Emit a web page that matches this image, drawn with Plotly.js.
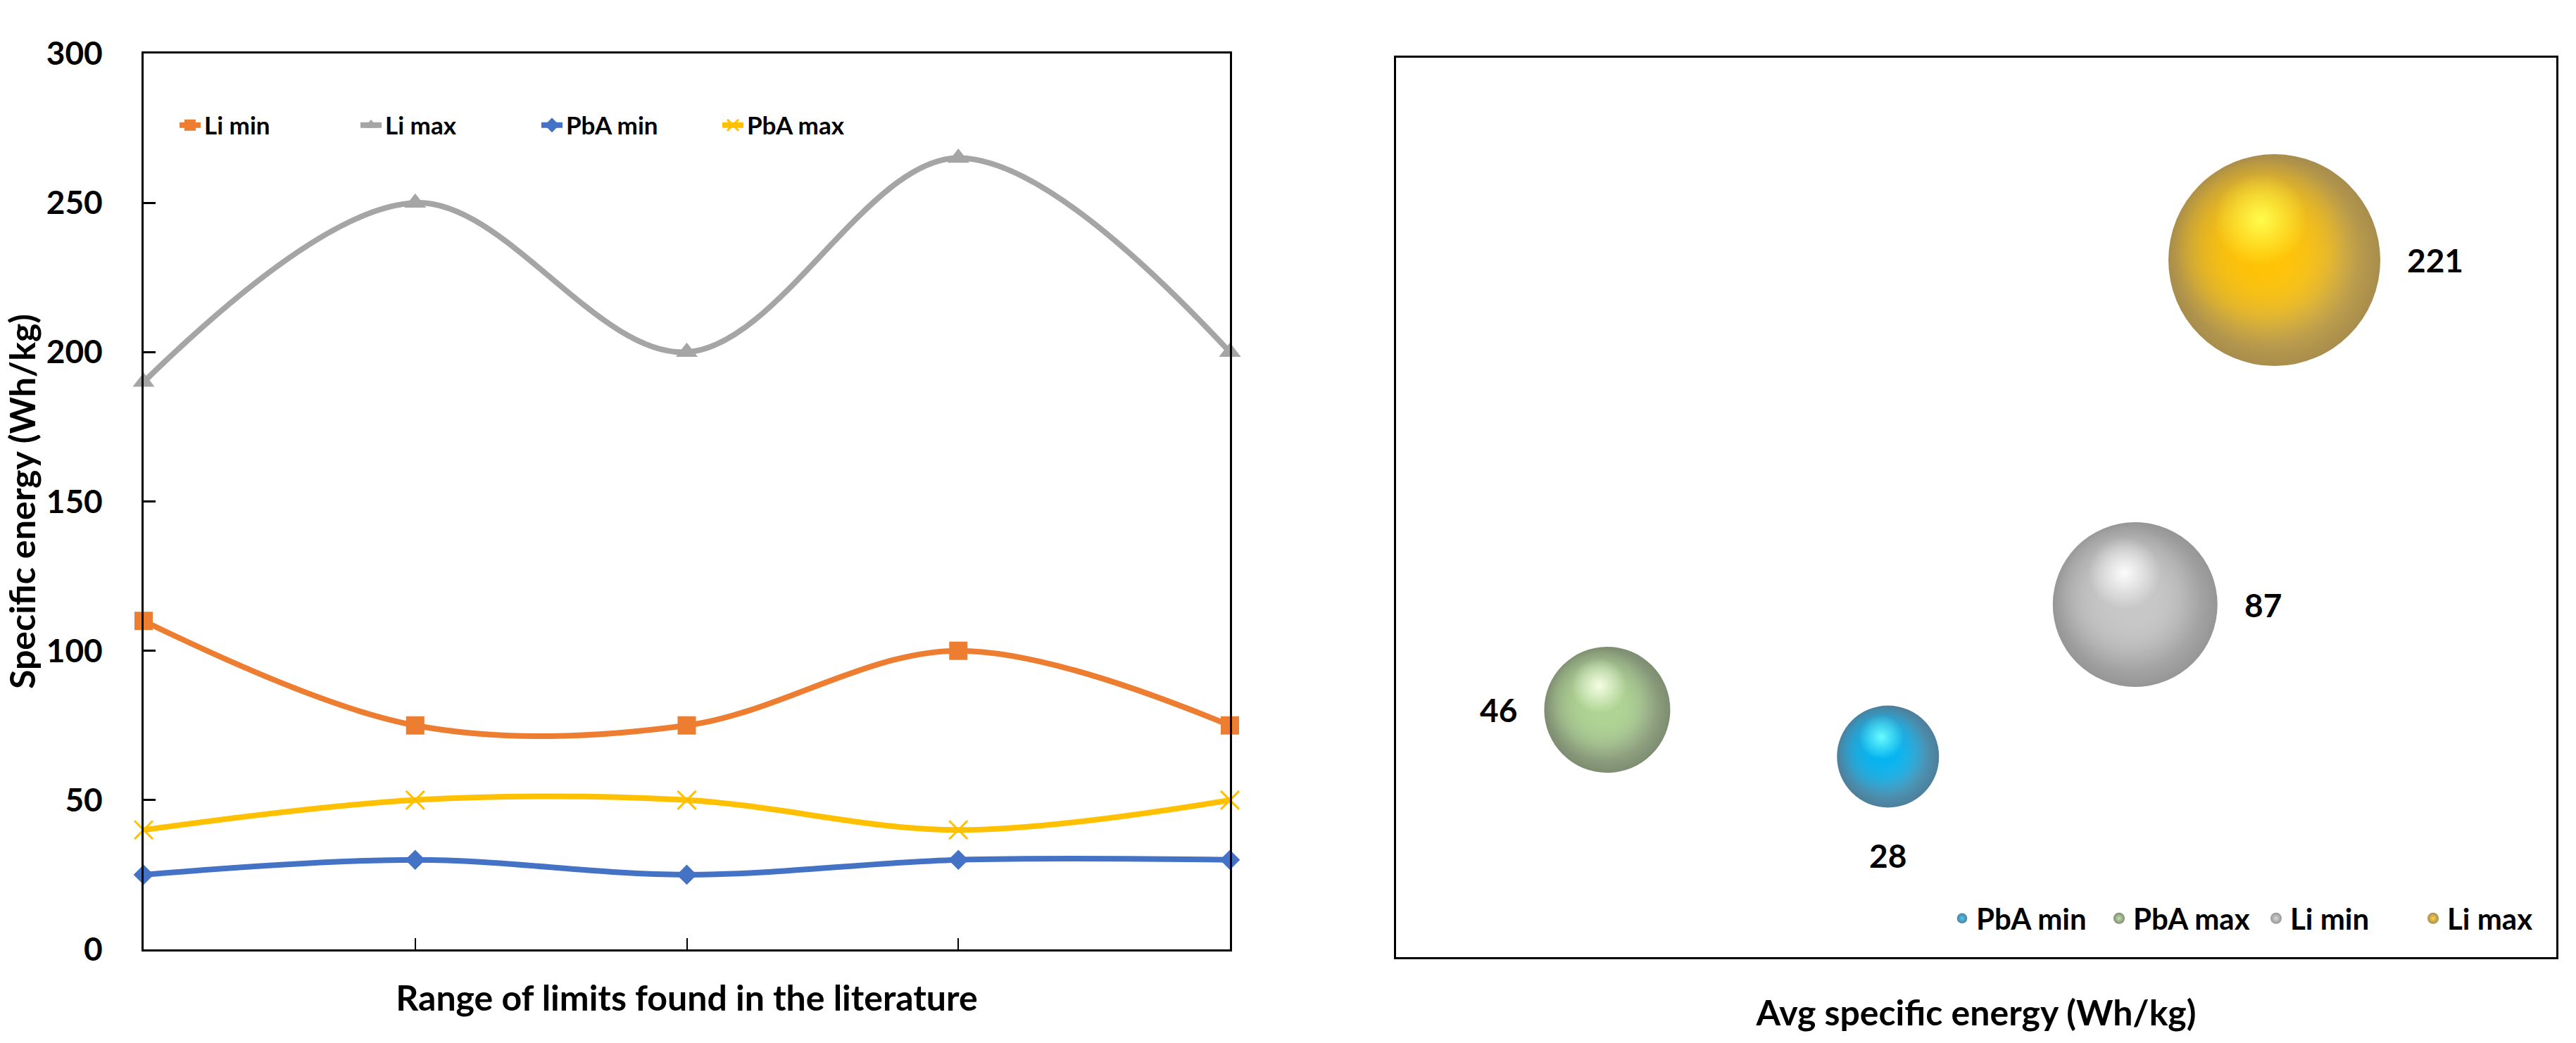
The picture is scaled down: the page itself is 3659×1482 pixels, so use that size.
<!DOCTYPE html>
<html><head><meta charset="utf-8">
<script src="https://cdn.plot.ly/plotly-3.0.1.min.js"></script>
<style>html,body{margin:0;padding:0;background:#fff}#chart{width:3659px;height:1482px}</style>
</head><body><div id="chart"></div>
<script>
// ---------- data ----------
const pointIndex = [0, 1, 2, 3, 4];
const liMin  = [110, 75, 75, 100, 75];
const liMax  = [190, 250, 200, 265, 200];
const pbaMin = [25, 30, 25, 30, 30];
const pbaMax = [40, 50, 50, 40, 50];
const yTickVals = [0, 50, 100, 150, 200, 250, 300];

const bubbleNames = ['PbA min', 'PbA max', 'Li min', 'Li max'];
const bubbleSeries = [pbaMin, pbaMax, liMin, liMax];   // label = average of series
const bubbleX = [4.24, 1.82, 6.37, 7.57];
const bubbleY = [2.23, 2.75, 3.92, 7.75];
const bubbleSize = [14.5, 17.9, 23.4, 30.1];

// ---------- layout geometry ----------
const W = 3659, H = 1482;
const L = {x0: 204, x1: 1747, top: 76, bottom: 1349};
const R = {x0: 1983, x1: 3631, top: 82, bottom: 1360};
const bxRange = [0, 10], byRange = [0, 10];
const FONT = 'Lato, "Open Sans", sans-serif';
const sizeRef = 0.1;

const avg = a => Math.round(a.reduce((s, v) => s + v, 0) / a.length);

const lineStyles = [
  {name: 'Li min',  y: liMin,  color: '#ED7D31', symbol: 'square',      size: 26},
  {name: 'Li max',  y: liMax,  color: '#A5A5A5', symbol: 'triangle-up', size: 27},
  {name: 'PbA min', y: pbaMin, color: '#4472C4', symbol: 'diamond',     size: 22},
  {name: 'PbA max', y: pbaMax, color: '#FFC000', symbol: 'x-thin-open', size: 26}
];

const bubbleStyles = [
  {base: [0, 178, 240],   edge: [0, 72, 112],   hl: [110, 255, 255]},
  {base: [172, 212, 144], edge: [70, 92, 52],   hl: [248, 255, 232]},
  {base: [198, 198, 198], edge: [105, 105, 105], hl: [255, 255, 255]},
  {base: [255, 194, 0],   edge: [130, 92, 0],   hl: [255, 255, 80]}
];
const rgba = (c, a) => `rgba(${c[0]},${c[1]},${c[2]},${a})`;

const traces = [];
lineStyles.forEach(s => {
  traces.push({
    type: 'scatter', mode: 'lines+markers', name: s.name,
    x: pointIndex, y: s.y, xaxis: 'x', yaxis: 'y', legend: 'legend',
    cliponaxis: false,
    line: {color: s.color, width: 8, shape: 'spline', smoothing: 1},
    marker: {symbol: s.symbol, size: s.size, color: s.color,
             line: {color: s.color, width: s.symbol === 'x-thin-open' ? 3 : 0}}
  });
});

const dxPerPx = (bxRange[1] - bxRange[0]) / (R.x1 - R.x0);
const dyPerPx = (byRange[1] - byRange[0]) / (R.bottom - R.top);

function shadeLayer(i, scale, offX, offY, color, centerColor) {
  const r = bubbleSize[i] / sizeRef / 2;
  return {
    type: 'scatter', mode: 'markers', showlegend: false, xaxis: 'x2', yaxis: 'y2', hoverinfo: 'skip',
    x: [bubbleX[i] + offX * r * dxPerPx], y: [bubbleY[i] - offY * r * dyPerPx], cliponaxis: false,
    marker: {size: 2 * r * scale, color: color, gradient: {type: 'radial', color: centerColor}, line: {width: 0}}
  };
}

bubbleNames.forEach((name, i) => {
  const st = bubbleStyles[i];
  traces.push({
    type: 'scatter', mode: 'markers', name: name, xaxis: 'x2', yaxis: 'y2', legend: 'legend2',
    x: [bubbleX[i]], y: [bubbleY[i]], cliponaxis: false, hoverinfo: 'skip',
    marker: {size: [bubbleSize[i]], sizemode: 'diameter', sizeref: sizeRef,
             color: rgba(st.edge, 1), gradient: {type: 'radial', color: rgba(st.base, 1)}, line: {width: 0}}
  });
  traces.push(shadeLayer(i, 0.90, -0.10, -0.10, rgba(st.base, 0), rgba(st.base, 1)));
  traces.push(shadeLayer(i, 0.80, -0.14, -0.16, rgba(st.base, 0), rgba(st.base, 0.9)));
  traces.push(shadeLayer(i, 0.44, -0.13, -0.38, rgba(st.hl, 0), rgba(st.hl, 0.95)));
});

const labelPos = ['below', 'left', 'right', 'right'];
const annotations = bubbleNames.map((name, i) => {
  const r = bubbleSize[i] / sizeRef / 2;
  const a = {xref: 'x2', yref: 'y2', x: bubbleX[i], y: bubbleY[i], showarrow: false,
             text: String(avg(bubbleSeries[i])),
             font: {family: FONT, size: 46, color: '#000', weight: 'bold'}};
  if (labelPos[i] === 'right') { a.xanchor = 'left'; a.xshift = r + 36; }
  else if (labelPos[i] === 'left') { a.xanchor = 'right'; a.xshift = -(r + 36); }
  else { a.yanchor = 'top'; a.yshift = -(r + 38); }
  return a;
});

const axLine = {showline: true, mirror: true, linecolor: '#000', linewidth: 3,
                showgrid: false, zeroline: false, automargin: false};
const titleFont = {family: FONT, size: 50, color: '#000', weight: 'bold'};

const layout = {
  width: W, height: H, margin: {l: 0, r: 0, t: 0, b: 0},
  paper_bgcolor: '#fff', plot_bgcolor: '#fff',
  font: {family: FONT, color: '#000'},
  xaxis: Object.assign({}, axLine, {
    domain: [L.x0 / W, L.x1 / W], range: [0, 4], tickvals: pointIndex,
    ticks: 'inside', ticklen: 16, tickwidth: 2, tickcolor: '#000', showticklabels: false,
    title: {text: 'Range of limits found in the literature', font: titleFont, standoff: 50}
  }),
  yaxis: Object.assign({}, axLine, {
    domain: [1 - L.bottom / H, 1 - L.top / H], range: [0, 300], tickvals: yTickVals,
    ticks: 'inside', ticklen: 17, tickwidth: 3, tickcolor: '#000',
    tickfont: {family: FONT, size: 46, color: '#000', weight: 'bold'}, ticklabelstandoff: 46,
    title: {text: 'Specific energy (Wh/kg)', font: titleFont, standoff: 0}
  }),
  xaxis2: Object.assign({}, axLine, {
    domain: [R.x0 / W, R.x1 / W], range: bxRange, anchor: 'y2',
    ticks: '', showticklabels: false,
    title: {text: 'Avg specific energy (Wh/kg)', font: titleFont, standoff: 60}
  }),
  yaxis2: Object.assign({}, axLine, {
    domain: [1 - R.bottom / H, 1 - R.top / H], range: byRange, anchor: 'x2',
    ticks: '', showticklabels: false
  }),
  legend: {orientation: 'h', x: 250 / W, xanchor: 'left', y: 1 - 178 / H, yanchor: 'middle',
           font: {family: FONT, size: 35, color: '#000', weight: 'bold'},
           entrywidth: 212, entrywidthmode: 'pixels',
           bgcolor: 'rgba(0,0,0,0)', borderwidth: 0},
  legend2: {orientation: 'h', x: 2767 / W, xanchor: 'left', y: 1 - 1305 / H, yanchor: 'middle',
            font: {family: FONT, size: 42, color: '#000', weight: 'bold'},
            entrywidth: 178, entrywidthmode: 'pixels',
            itemsizing: 'trace', bgcolor: 'rgba(0,0,0,0)', borderwidth: 0},
  annotations: annotations
};

Plotly.newPlot('chart', traces, layout, {staticPlot: true});
</script>
</body></html>
